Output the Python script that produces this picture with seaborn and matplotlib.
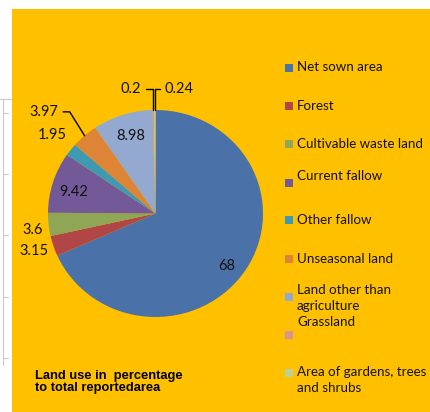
import numpy as np
import matplotlib
matplotlib.use("Agg")
import matplotlib.pyplot as plt
from matplotlib.patches import Rectangle
import seaborn as sns

# data
categories = ["Net sown area", "Forest", "Cultivable waste land", "Current fallow",
              "Other fallow", "Unseasonal land", "Land other than agriculture",
              "Grassland", "Area of gardens, trees and shrubs"]
values = [68, 3.15, 3.6, 9.42, 1.95, 3.97, 8.98, 0.2, 0.24]
value_labels = ["68", "3.15", "3.6", "9.42", "1.95", "3.97", "8.98", "0.2", "0.24"]
legend_labels = ["Net sown area", "Forest", "Cultivable waste land", "Current fallow\n",
                 "Other fallow", "Unseasonal land", "Land other than\nagriculture",
                 "Grassland\n", "Area of gardens, trees\nand shrubs"]
title_text = "Land use in  percentage\nto total reportedarea"

slice_colors = ["#4A72A8", "#B24646", "#8EA655", "#735997", "#3E9AB3",
                "#DD8436", "#93A9CF", "#D49594", "#BCD095"]

# label placement: radius and angle tweak (deg) from each wedge's middle
label_r = [0.836, 1.187, 1.151, 0.786, 1.225, 1.428, 0.783, 1.224, 1.223]
label_da = [-4.3, -0.5, 1.8, 2.2, -0.2, 5.3, -0.9, 9.5, -10.7]
leader = {5: dict(relpos=(1, 0.5), cs="angle,angleA=0,angleB=122,rad=0"),
          7: dict(relpos=(1, 0.5), cs="angle,angleA=0,angleB=90,rad=0"),
          8: dict(relpos=(0, 0.5), cs="angle,angleA=0,angleB=90,rad=0")}

# legend layout in pixels (marker centre y, text centre y)
leg_marker_y = [68, 106, 144, 183, 220, 259, 297, 335, 373]
leg_text_y = [67, 106, 144, 183, 220, 259, 298, 330, 380]

sns.set_theme(style="white")
plt.rcParams["font.family"] = ["Lato", "DejaVu Sans"]

W, H = 430, 412
fig = plt.figure(figsize=(W / 100, H / 100), dpi=100, facecolor="white")

# orange chart area and the spreadsheet edge at the left
fig.add_artist(Rectangle((12 / W, 0), 1, 1 - 9 / H, transform=fig.transFigure,
                         facecolor="#FFC000", edgecolor="none", zorder=0))
fig.add_artist(plt.Line2D([3 / W, 3 / W], [1 - 99 / H, 1 - 365 / H],
                          transform=fig.transFigure, color="#C8C8C8", lw=0.8))
fig.add_artist(plt.Line2D([0, 11 / W], [1 - 99 / H, 1 - 99 / H],
                          transform=fig.transFigure, color="#C8C8C8", lw=0.8))
for ty in [113, 174, 235, 297, 358]:
    fig.add_artist(plt.Line2D([4 / W, 8 / W], [1 - ty / H, 1 - ty / H],
                              transform=fig.transFigure, color="#C8C8C8", lw=0.8))

ax = fig.add_axes([0, 0, 1, 1])
ax.set_facecolor("none")
palette = sns.color_palette(slice_colors)
wedges, _ = ax.pie(values, colors=palette, startangle=90, counterclock=False,
                   wedgeprops=dict(linewidth=0))
ax.set_aspect("auto")
cx, cy, rx, ry = 155.5, 213.5, 107.5, 103.5
ax.set_xlim(-cx / rx, (W - cx) / rx)
ax.set_ylim(-(H - cy) / ry, cy / ry)
ax.axis("off")

for i, w in enumerate(wedges):
    mid = (w.theta1 + w.theta2) / 2
    ang = np.deg2rad(mid + label_da[i])
    pos = (label_r[i] * np.cos(ang), label_r[i] * np.sin(ang))
    if i in leader:
        edge = (np.cos(np.deg2rad(mid)), np.sin(np.deg2rad(mid)))
        ax.annotate(value_labels[i], xy=edge, xytext=pos, ha="center", va="center",
                    fontsize=10.5, color="#111111",
                    arrowprops=dict(arrowstyle="-", color="black", lw=1,
                                    relpos=leader[i]["relpos"], shrinkA=1, shrinkB=0,
                                    connectionstyle=leader[i]["cs"]))
    else:
        ax.text(pos[0], pos[1], value_labels[i], ha="center", va="center",
                fontsize=10.5, color="#111111")

# legend
for i, w in enumerate(wedges):
    my = leg_marker_y[i]
    fig.add_artist(Rectangle((284.5 / W, 1 - (my + 4) / H), 8 / W, 8 / H,
                             transform=fig.transFigure, facecolor=w.get_facecolor(),
                             edgecolor="none"))
    fig.text(297 / W, 1 - leg_text_y[i] / H, legend_labels[i], ha="left", va="center",
             fontsize=9.6, color="#111111", linespacing=1.3)

fig.text(35 / W, 1 - 382 / H, title_text, ha="left", va="center", fontsize=9.3,
         fontweight="bold", family=["Liberation Sans", "DejaVu Sans"], color="black",
         linespacing=1.0)

fig.savefig("out.png", dpi=100, facecolor="white")
